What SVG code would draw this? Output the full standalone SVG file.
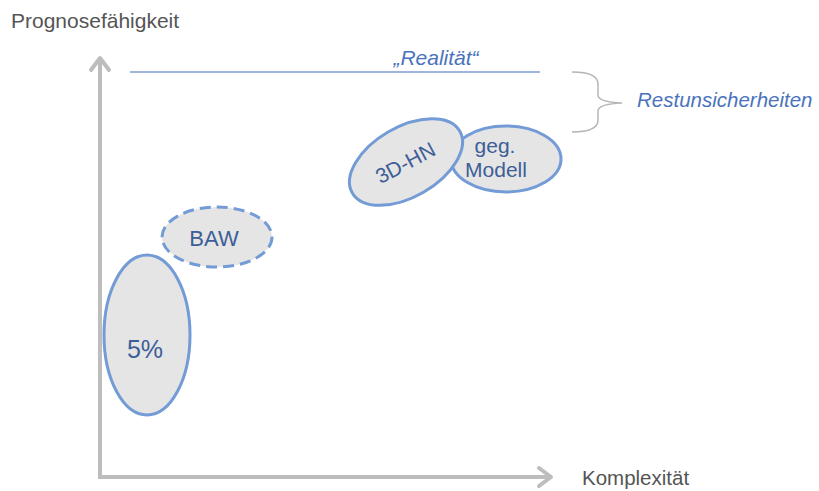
<svg xmlns="http://www.w3.org/2000/svg" width="819" height="491" viewBox="0 0 819 491">
<defs>
<style>
.ax{stroke:#bdbdbd;stroke-width:4;fill:none}
.ah{stroke:#bdbdbd;stroke-width:4;fill:none;stroke-linecap:round;stroke-linejoin:round}
.el{fill:#e5e5e5;stroke:#739bd6;stroke-width:3}
.dash{stroke-dasharray:11 6}
.nt{font-family:"Liberation Sans",Arial,sans-serif;fill:#3d5e97;text-anchor:middle}
.it{font-family:"Liberation Sans",Arial,sans-serif;font-style:italic;fill:#4a73bd}
.gt{font-family:"Liberation Sans",Arial,sans-serif;fill:#555555}
</style>
</defs>
<rect width="819" height="491" fill="#ffffff"/>
<g id="axes">
<path class="ax" d="M100 478 V58 M98 477 H550"/>
<path class="ah" d="M91 70 L100 58 L109 70"/>
<path class="ah" d="M539 468 L551 477 L539 486"/>
</g>
<text class="gt" x="11" y="28" font-size="21">Prognosefähigkeit</text>
<text class="gt" x="582" y="485" font-size="20.5">Komplexität</text>
<g id="realitaet">
<line x1="130" y1="72" x2="540" y2="72" stroke="#7f9cd0" stroke-width="1.5"/>
<text class="it" x="436" y="65" font-size="21" text-anchor="middle">„Realität“</text>
</g>
<g id="restunsicherheiten">
<path d="M572 72 Q598 72 598 84 L598 95 Q598 102 622 103 Q598 104 598 111 L598 120 Q598 132 572 132" fill="none" stroke="#b5b5b5" stroke-width="1.5"/>
<text class="it" x="637" y="107" font-size="20.5">Restunsicherheiten</text>
</g>
<g id="n5">
<ellipse class="el" cx="147" cy="335" rx="43" ry="80"/>
<text class="nt" x="145" y="358" font-size="25">5%</text>
</g>
<g id="baw">
<ellipse class="el dash" cx="217" cy="237" rx="55" ry="30"/>
<text class="nt" x="214" y="246" font-size="22">BAW</text>
</g>
<g id="geg">
<ellipse class="el" cx="506" cy="159" rx="55" ry="33"/>
<text class="nt" x="495" y="153" font-size="21">geg.</text>
<text class="nt" x="496" y="177" font-size="21">Modell</text>
</g>
<g id="hn">
<ellipse class="el" cx="406" cy="162" rx="62" ry="35" transform="rotate(-30 406 162)"/>
<text class="nt" x="406" y="170" font-size="21" transform="rotate(-28 406 164)">3D-HN</text>
</g>
</svg>
